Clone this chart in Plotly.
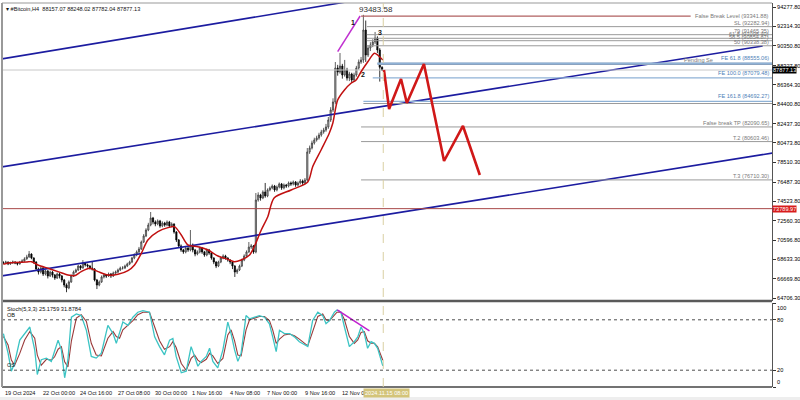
import plotly.graph_objects as go
from datetime import datetime, timedelta

# ---------------- data ----------------
T0 = datetime(2024, 10, 19, 8, 0)   # first H4 bar

close = [68270, 68370, 68170, 68270, 68370, 68270, 68170, 68370, 68470, 68680,
         68880, 69180, 68780, 68370, 67660, 67350, 67760, 67150, 67460, 66950,
         67350, 67050, 66740, 67150, 66950, 66540, 66030, 65730, 66340, 66950,
         67350, 67560, 67960, 67760, 68270, 68070, 67960, 67760, 67660, 66540,
         66030, 66340, 66850, 67050, 66950, 67150, 66950, 67250, 67350, 67560,
         67760, 67760, 67960, 68170, 68370, 68780, 69080, 69390, 69690, 70400,
         71010, 71620, 72130, 72840, 72430, 72230, 72540, 72030, 72330, 72130,
         72430, 72030, 72230, 71420, 70610, 70000, 69590, 69390, 69790, 69590,
         70100, 69590, 69180, 69390, 69790, 69390, 69080, 69590, 69280, 68780,
         68370, 67960, 68370, 68780, 68980, 68780, 68570, 68370, 67960, 67350,
         67560, 67960, 68570, 68980, 69390, 69890, 70000, 69390, 74670, 75180,
         74870, 75480, 75080, 75690, 75890, 76090, 75690, 75990, 76300, 75890,
         76190, 76090, 76400, 76300, 76500, 76190, 76400, 76600, 76400, 76700,
         79550, 79950, 80460, 80770, 80970, 81270, 81580, 81780, 82090, 82800,
         83810, 84630, 88080, 87670, 88280, 87370, 87880, 87060, 87470, 86860,
         87370, 88080, 88690, 88890, 91940, 89400, 90110, 90420, 90720, 91130,
         89910, 88157.07, 87877.13]
high = [68450, 68500, 68420, 68400, 68520, 68450, 68350, 68480, 68650, 68850,
        69100, 69490, 69250, 68850, 68450, 67800, 67900, 67850, 67600, 67550,
        67500, 67450, 67150, 67300, 67250, 67050, 66650, 66200, 66500, 67100,
        67500, 67700, 68100, 68050, 68570, 68350, 68200, 68050, 68370, 67750,
        66650, 66500, 67000, 67200, 67150, 67300, 67250, 67400, 67500, 67700,
        67900, 67950, 68100, 68300, 68500, 68900, 69250, 69550, 69900, 70550,
        71200, 71800, 72350, 73450, 72950, 72600, 72700, 72650, 72500, 72450,
        72600, 72550, 72400, 72300, 71500, 70700, 70150, 69700, 69950, 69900,
        71620, 70250, 69700, 69550, 69950, 69900, 69500, 69750, 69700, 69350,
        68850, 68450, 68500, 68900, 69150, 69100, 68850, 68650, 68450, 68050,
        67700, 68100, 68700, 69150, 69550, 70400, 70200, 70100, 75380, 75450,
        75300, 75650, 76400, 75850, 76050, 76250, 76200, 76150, 76450, 76400,
        76350, 76300, 76550, 76550, 76650, 76600, 76550, 76800, 76750, 76900,
        79950, 80200, 80700, 81000, 81200, 81500, 81800, 82000, 82400, 83100,
        84100, 85000, 88690, 88400, 89600, 88500, 88900, 88100, 87700, 87600,
        87600, 88300, 88950, 89200, 93483.58, 92900, 90400, 90700, 91000, 91740,
        91300, 90100, 88248.02]
low = [68150, 68200, 68050, 68080, 68200, 68150, 68020, 68100, 68300, 68400,
       68600, 68800, 68650, 68200, 67500, 67100, 67200, 66950, 67000, 66700,
       66850, 66800, 66550, 66650, 66700, 66300, 65800, 65300, 65600, 66250,
       66850, 67250, 67450, 67550, 67700, 67900, 67800, 67600, 67500, 66400,
       65620, 65900, 66250, 66700, 66750, 66850, 66750, 66850, 67100, 67250,
       67450, 67600, 67650, 67850, 68050, 68250, 68650, 68950, 69250, 69600,
       70300, 70900, 71500, 72000, 72200, 72000, 72100, 71850, 71900, 71950,
       72000, 71850, 71900, 71250, 70400, 69800, 69400, 69200, 69250, 69400,
       69450, 69350, 68950, 69050, 69250, 69200, 68900, 68950, 69100, 68600,
       68150, 67750, 67850, 68250, 68650, 68600, 68400, 68150, 67650, 66850,
       67150, 67450, 67850, 68450, 68900, 69300, 69700, 69200, 69250, 74500,
       74600, 74750, 74900, 74950, 75550, 75750, 75500, 75550, 75850, 75700,
       75750, 75900, 75950, 76100, 76150, 76000, 76050, 76250, 76200, 76250,
       76550, 79350, 79800, 80300, 80600, 80800, 81100, 81400, 81600, 81900,
       82600, 83600, 84400, 87300, 87500, 87000, 87200, 86800, 86750, 86560,
       86700, 87200, 87900, 88500, 88600, 88700, 89200, 89800, 90200, 90500,
       89600, 86700, 87782.04]
first_open = 68300

ma_pos = [0, 2.7, 9.8, 12, 14.8, 19.1, 23.4, 27.6, 30.5, 33.3, 36.9, 40.5, 44.7, 49, 53.3,
          56.1, 59, 61.8, 66.1, 70.4, 73.2, 76.1, 78.9, 83.2, 87.5, 91.8, 96, 98.8, 101.7,
          105.3, 107.3, 110.3, 113.1, 115.8, 123.1, 130.2, 132.3, 135.9, 139.4, 140.9, 143,
          145.9, 148.7, 150.9, 153, 155.9, 158.7, 160.1, 162.3]
ma_val = [68140, 68300, 68370, 68400, 68070, 67730, 67390, 67050, 66980, 67390, 67730, 67390,
          67050, 67120, 67490, 68070, 69250, 70610, 71450, 71860, 71960, 71110, 70100, 69920,
          69590, 68980, 68640, 68400, 68570, 69080, 69920, 71620, 72970, 74870, 75690, 76500,
          78050, 79750, 81450, 82460, 84830, 85850, 86530, 86860, 87700, 88720, 89570, 89400,
          88890]

st_pos = [0, 2, 3.4, 4.8, 7, 9.1, 11.3, 13.4, 14.5, 16.2,
          18.4, 20.5, 21.9, 23.4, 24.8, 26.2, 27.6, 29.1, 31.2, 33.3,
          35.5, 37.6, 39.7, 41.9, 44.7, 46.9, 48.3, 49.7, 51.1, 53.3,
          55.4, 57.5, 59.7, 62.5, 64.7, 66.8, 68.9, 71.1, 72.5, 73.9,
          76.1, 78.2, 80.3, 81.8, 83.2, 84.6, 86.8, 88.2, 89.6, 91.7,
          93.9, 96, 97.4, 98.9, 100.3, 101.7, 103.8, 105.3, 107.4, 109.5,
          111.7, 113.8, 115.2, 116.7, 118.1, 120.2, 122.4, 124.5, 126.6, 128.8,
          130.2, 132.3, 134.5, 136.6, 138, 139.5, 141.6, 142.7, 144.4, 145.9,
          148, 150.1, 151.6, 153, 154.4, 155.8, 157.3, 158.7, 160.1, 162.3]
st_k = [63.6, 40.3, 18.8, 28.6, 55.8, 63.6, 71.4, 44.2, 14.9, 32.5,
        34.4, 30.5, 42.2, 55.8, 44.2, 11.0, 32.5, 83.1, 87, 85,
        67.5, 36.4, 34.4, 40.3, 73.4, 63.6, 52, 63.6, 77.3, 73.4,
        83.1, 89, 90.9, 89, 59.7, 48.1, 38.3, 55.8, 57.8, 36.4,
        16.9, 18.8, 48.1, 36.4, 24.7, 30.5, 36.4, 46.1, 30.5, 22.7,
        44.2, 77.3, 63.6, 44.2, 30.5, 40.3, 85, 81.2, 83.1, 85,
        83.1, 75.3, 59.7, 42.2, 67.5, 63.6, 63.6, 59.7, 53.9, 50,
        48.1, 79.2, 89, 85, 75.3, 79.2, 89, 91.7, 89, 71.4,
        48.1, 53.9, 59.7, 71.4, 63.6, 46.1, 53.9, 52, 46.1, 25.18]
st_d = [60, 50, 32, 26, 40, 56, 66, 58, 38, 26,
        33, 32, 36, 45, 48, 30, 24, 55, 82, 86,
        78, 52, 38, 37, 58, 66, 60, 58, 68, 74,
        79, 86, 89, 89, 72, 55, 45, 48, 54, 47,
        28, 20, 34, 38, 32, 29, 33, 40, 37, 28,
        34, 62, 68, 55, 38, 37, 68, 80, 82, 84,
        84, 79, 68, 52, 57, 62, 63, 61, 57, 52,
        49, 66, 84, 87, 80, 79, 85, 89, 89, 80,
        60, 52, 56, 65, 66, 55, 52, 52, 48, 31.88]

proj_pos = [162.8, 165, 170.1, 172.6, 179.9, 188.5, 196.6, 203.8]
proj_val = [87877, 83915, 86962, 84524, 88486, 78631, 82188, 77209]

chan_pos = [-1, 151.7, -1, 324.8, -1, 329]
chan_val = [88990, 94990, 78020, 90315, 66950, 79440]

lvl_price = [92282.94, 91465.35, 91098.40, 90854.87, 90338.38, 84470, 82090.65, 80603.46, 76710.30]
lvl_text = ["SL (92282.94)", "79 (91465.35)", "61.8 (91098.40)", "58.5 (90854.87)", "50 (90338.38)", "",
            "False break TP (82090.65)", "T.2 (80603.46)", "T.3 (76710.30)"]
lvl_start = [155.5, 155.5, 155.5, 155.5, 155.5, 154, 153, 153, 153]
fe_price = [88555.06, 87079.48, 84692.27]
fe_text = ["FE 61.8 (88555.06)", "FE 100.0 (87079.48)", "FE 161.8 (84692.27)"]
fe_start = [160, 158, 154]
false_break = 93341.88
pending_sell = 88500
support_red = 73789.97
last_price = 87877.13
peak_price = 93483.58

price_ticks = [94277.80, 92314.30, 90350.80, 88327.80, 86364.30, 84400.80, 82437.30, 80473.80,
               78510.30, 76487.30, 74523.80, 72560.30, 70596.80, 68633.30, 66669.80, 64706.30]
date_labels = ["19 Oct 2024", "22 Oct 00:00", "24 Oct 16:00", "27 Oct 08:00", "30 Oct 00:00",
               "1 Nov 16:00", "4 Nov 08:00", "7 Nov 00:00", "9 Nov 16:00", "12 Nov 08:00"]
date_pos = [0, 16, 32, 48, 64, 80, 96, 112, 128, 144]


def t(i):
    return T0 + timedelta(hours=4 * i)


n = len(close)
xs = [t(i) for i in range(n)]
opn = [first_open] + close[:-1]
X_LEFT, X_RIGHT = -0.6, 328.8

FONT = "Liberation Sans"
FS = 5.6
fig = go.Figure()

# channel lines
for k in range(0, len(chan_pos), 2):
    fig.add_trace(go.Scatter(x=[t(chan_pos[k]), t(chan_pos[k + 1])], y=[chan_val[k], chan_val[k + 1]],
                             mode="lines", line=dict(color="#1c1ca0", width=1.6), hoverinfo="skip"))

# red support and last price line
fig.add_trace(go.Scatter(x=[t(X_LEFT), t(X_RIGHT)], y=[support_red] * 2, mode="lines",
                         line=dict(color="#a84848", width=1)))
fig.add_trace(go.Scatter(x=[t(X_LEFT), t(X_RIGHT)], y=[last_price] * 2, mode="lines",
                         line=dict(color="#c8c8c8", width=1)))

# level lines
fig.add_trace(go.Scatter(x=[t(153), t(294)], y=[false_break] * 2, mode="lines",
                         line=dict(color="#b06060", width=1.2)))
for p, s in zip(lvl_price, lvl_start):
    fig.add_trace(go.Scatter(x=[t(s), t(X_RIGHT)], y=[p, p], mode="lines",
                             line=dict(color="#9a9a9a", width=1)))
fig.add_trace(go.Scatter(x=[t(160), t(X_RIGHT)], y=[pending_sell] * 2, mode="lines",
                         line=dict(color="#8aa2bf", width=2.5)))
for p, s in zip(fe_price, fe_start):
    fig.add_trace(go.Scatter(x=[t(s), t(X_RIGHT)], y=[p, p], mode="lines",
                             line=dict(color="#8fb2d6", width=1.2)))

# candles
fig.add_trace(go.Candlestick(x=xs, open=opn, high=high, low=low, close=close,
                             increasing=dict(line=dict(color="#3a3a3a", width=0.8), fillcolor="#c9c9c9"),
                             decreasing=dict(line=dict(color="#000000", width=0.8), fillcolor="#000000"),
                             whiskerwidth=0, hoverinfo="skip"))

# moving average
fig.add_trace(go.Scatter(x=[t(p) for p in ma_pos], y=ma_val, mode="lines",
                         line=dict(color="#c01010", width=1.5, shape="spline", smoothing=0.8)))

# wave line 1
fig.add_trace(go.Scatter(x=[t(143), t(152.6)], y=[89736, 93363], mode="lines",
                         line=dict(color="#c030d0", width=1.5)))

# projection zigzag
fig.add_trace(go.Scatter(x=[t(p) for p in proj_pos], y=proj_val, mode="lines",
                         line=dict(color="#d01818", width=2.6)))

# stochastic
fig.add_trace(go.Scatter(x=[t(p) for p in st_pos], y=st_d, mode="lines", yaxis="y2",
                         line=dict(color="#9a3a3a", width=1.1)))
fig.add_trace(go.Scatter(x=[t(p) for p in st_pos], y=st_k, mode="lines", yaxis="y2",
                         line=dict(color="#3cc4c4", width=1.3)))
fig.add_trace(go.Scatter(x=[t(142.8), t(156.6)], y=[91.7, 66.8], mode="lines", yaxis="y2",
                         line=dict(color="#c020d0", width=1.5)))
for lv in (80, 20):
    fig.add_trace(go.Scatter(x=[t(X_LEFT), t(X_RIGHT)], y=[lv, lv], mode="lines", yaxis="y2",
                             line=dict(color="#222", width=0.8, dash="dot")))

SEP = (387 - 301) / 384.0
fig.update_layout(
    width=800, height=400, showlegend=False,
    margin=dict(l=2, r=28, t=3, b=13, autoexpand=False),
    paper_bgcolor="white", plot_bgcolor="white",
    font=dict(family=FONT, size=FS, color="#000"),
    xaxis=dict(range=[t(X_LEFT), t(X_RIGHT)], showgrid=False, zeroline=False, showticklabels=False,
               rangeslider=dict(visible=False), anchor="y2", showline=False),
    yaxis=dict(domain=[SEP, 1], range=[94989 - 101.6 * 301, 94989 - 101.6 * 3], side="right",
               tickvals=price_ticks, ticktext=["%.2f" % v for v in price_ticks],
               showgrid=False, zeroline=False, ticks="outside", ticklen=3, tickcolor="#333",
               showline=True, linecolor="#555", linewidth=1, tickfont=dict(size=FS, family=FONT)),
    yaxis2=dict(domain=[0, (387 - 303) / 384.0], range=[0, 100], side="right",
                tickvals=[0, 20, 80, 100], ticktext=["", "20", "80", ""],
                showgrid=False, zeroline=False, ticks="outside", ticklen=3, tickcolor="#333",
                showline=True, linecolor="#555", linewidth=1, tickfont=dict(size=FS, family=FONT)),
)

shapes = [
    dict(type="line", xref="paper", yref="paper", x0=0, x1=1, y0=SEP, y1=SEP,
         line=dict(color="#5a5a5a", width=2.5)),
    dict(type="line", xref="paper", yref="paper", x0=0, x1=1, y0=0, y1=0,
         line=dict(color="#444", width=1.5)),
    dict(type="line", xref="paper", yref="paper", x0=0, x1=1, y0=1, y1=1,
         line=dict(color="#999", width=1)),
    dict(type="line", xref="paper", yref="paper", x0=0, x1=0, y0=0, y1=1,
         line=dict(color="#999", width=2)),
    dict(type="line", xref="x", yref="paper", x0=t(162.5), x1=t(162.5), y0=0, y1=1,
         line=dict(color="#d9cfa2", width=1, dash="dash")),
    dict(type="rect", xref="paper", yref="paper", x0=-0.01, x1=1.05, y0=-0.05, y1=-0.026,
         fillcolor="#eeeeee", line=dict(width=0), layer="below"),
]
fig.update_layout(shapes=shapes)

ann = []
GRAY = "#7a7a7a"
BLUE = "#4f7fb8"
XR = 0.9985
ann.append(dict(x=XR, xref="paper", y=false_break, yref="y", text="False Break Level (93341.88)",
                xanchor="right", yanchor="middle", showarrow=False, font=dict(size=FS, color=GRAY)))
for p, txt in zip(lvl_price, lvl_text):
    if txt:
        ann.append(dict(x=XR, xref="paper", y=p, yref="y", text=txt, xanchor="right", yanchor="bottom",
                        yshift=-1, showarrow=False, font=dict(size=FS, color=GRAY)))
for p, txt in zip(fe_price, fe_text):
    ann.append(dict(x=XR, xref="paper", y=p, yref="y", text=txt, xanchor="right", yanchor="bottom",
                    yshift=0, showarrow=False, font=dict(size=FS, color=BLUE)))
ann.append(dict(x=(715 - 2) / 770, xref="paper", y=fe_price[0], yref="y", text="Pending Se",
                xanchor="right", yanchor="bottom", yshift=-2, showarrow=False, font=dict(size=FS, color=GRAY)))
# axis price boxes
ann.append(dict(x=1.0, xref="paper", y=last_price, yref="y", text="87877.13", xanchor="left", yanchor="middle",
                showarrow=False, bgcolor="#000", borderpad=0, font=dict(size=FS, color="white")))
ann.append(dict(x=1.0, xref="paper", y=support_red, yref="y", text="73789.97", xanchor="left", yanchor="middle",
                showarrow=False, bgcolor="#d81c1c", borderpad=0, font=dict(size=FS, color="white")))
# stoch 100 / 0 labels (drawn inside the panel like the terminal does)
ann.append(dict(x=1.0, xref="paper", y=100, yref="y2", text="100", xanchor="left", yanchor="top", xshift=3,
                showarrow=False, font=dict(size=FS, color="#000")))
ann.append(dict(x=1.0, xref="paper", y=0, yref="y2", text="0", xanchor="left", yanchor="bottom", xshift=3,
                showarrow=False, font=dict(size=FS, color="#000")))
# wave labels
ann.append(dict(x=t(159.2), y=peak_price + 490, xref="x", yref="y", text="93483.58", showarrow=False,
                font=dict(size=8, color="#333")))
for lab, pos, val in (("1", 149.7, 92683), ("2", 153.9, 87399), ("3", 160.9, 91738)):
    ann.append(dict(x=t(pos), y=val, xref="x", yref="y", text="<b>%s</b>" % lab, showarrow=False,
                    font=dict(size=7, color="#111")))
# header
ann.append(dict(x=0.002, y=1, xref="paper", yref="paper", text="▾ #Bitcoin,H4  88157.07 88248.02 87782.04 87877.13",
                xanchor="left", yanchor="top", yshift=-1, showarrow=False, font=dict(size=FS, color="#111")))
ann.append(dict(x=0.004, y=100, xref="paper", yref="y2", text="Stoch(5,3,3) 25.1759 31.8784",
                xanchor="left", yanchor="top", yshift=-1, showarrow=False, font=dict(size=FS, color="#111")))
ann.append(dict(x=0.004, y=80, xref="paper", yref="y2", text="OB", xanchor="left", yanchor="bottom",
                showarrow=False, font=dict(size=FS, color="#111")))
ann.append(dict(x=0.004, y=20, xref="paper", yref="y2", text="OS", xanchor="left", yanchor="bottom",
                showarrow=False, font=dict(size=FS, color="#111")))
# date labels
for lab, pos in zip(date_labels, date_pos):
    ann.append(dict(x=t(pos), xref="x", y=0, yref="paper", text=lab, xanchor="left", yanchor="top",
                    yshift=-1, showarrow=False, font=dict(size=FS, color="#111")))
ann.append(dict(x=t(153.9), xref="x", y=0, yref="paper", text="2024.11.15 08:00", xanchor="left",
                yanchor="top", yshift=-1, showarrow=False, bgcolor="#d3c47a", borderpad=1,
                font=dict(size=FS, color="white")))
fig.update_layout(annotations=ann)

fig.write_html("out.html", config={"displayModeBar": False},
               post_script="document.body.style.margin='0';document.body.style.overflow='hidden';")
